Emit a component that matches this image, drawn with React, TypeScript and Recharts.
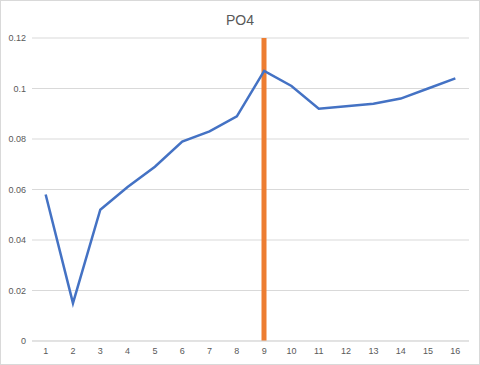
import { ComposedChart, Line, Bar, XAxis, YAxis, CartesianGrid } from "recharts";

const samples = ["1", "2", "3", "4", "5", "6", "7", "8", "9", "10", "11", "12", "13", "14", "15", "16"];
const po4 = [0.058, 0.015, 0.052, 0.061, 0.069, 0.079, 0.083, 0.089, 0.107, 0.101, 0.092, 0.093, 0.094, 0.096, 0.1, 0.104];
const marker = [null, null, null, null, null, null, null, null, 0.12, null, null, null, null, null, null, null];
const yTicks = [0, 0.02, 0.04, 0.06, 0.08, 0.1, 0.12];

const data = samples.map((s, i) => ({ sample: s, po4: po4[i], marker: marker[i] }));

const tickStyle = { fontSize: 9, fill: "#595959", fontFamily: "Liberation Sans, Arial, sans-serif" };

export default function App() {
  return (
    <div
      style={{
        position: "fixed",
        left: 0,
        top: 0,
        width: 480,
        height: 365,
        boxSizing: "border-box",
        border: "1px solid #D9D9D9",
        background: "#fff",
      }}
    >
      <div
        style={{
          position: "absolute",
          top: 11,
          left: 0,
          width: 478,
          textAlign: "center",
          fontSize: 14,
          color: "#595959",
          fontFamily: "Liberation Sans, Arial, sans-serif",
        }}
      >
        PO4
      </div>
      <div style={{ position: "absolute", left: -1, top: -1 }}>
        <ComposedChart width={480} height={365} data={data} margin={{ top: 38, right: 11, left: 0, bottom: 0 }}>
          <CartesianGrid vertical={false} stroke="#D9D9D9" />
          <XAxis
            dataKey="sample"
            height={24}
            tick={tickStyle}
            tickLine={false}
            tickSize={0}
            tickMargin={7}
            axisLine={{ stroke: "#D9D9D9" }}
            interval={0}
          />
          <YAxis
            width={32}
            domain={[0, 0.12]}
            ticks={yTicks}
            tick={tickStyle}
            tickLine={false}
            tickSize={0}
            tickMargin={6}
            axisLine={false}
          />
          <Bar dataKey="marker" fill="#ED7D31" barSize={5} isAnimationActive={false} />
          <Line
            type="linear"
            dataKey="po4"
            stroke="#4472C4"
            strokeWidth={2.5}
            dot={false}
            isAnimationActive={false}
          />
        </ComposedChart>
      </div>
    </div>
  );
}
